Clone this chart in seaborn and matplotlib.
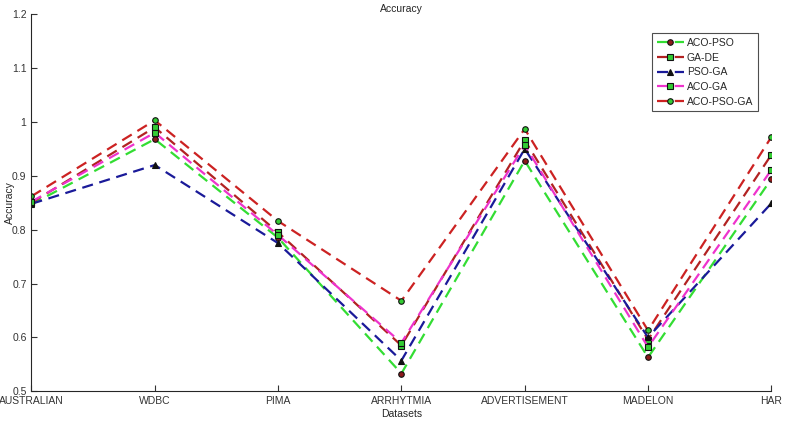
import pandas as pd
import matplotlib.pyplot as plt
import seaborn as sns

datasets = ["AUSTRALIAN", "WDBC", "PIMA", "ARRHYTMIA", "ADVERTISEMENT", "MADELON", "HAR"]

aco_pso = [0.847, 0.968, 0.785, 0.533, 0.928, 0.563, 0.894]
ga_de = [0.850, 0.990, 0.795, 0.585, 0.966, 0.596, 0.939]
pso_ga = [0.848, 0.920, 0.775, 0.557, 0.950, 0.600, 0.849]
aco_ga = [0.852, 0.980, 0.790, 0.590, 0.957, 0.582, 0.911]
aco_pso_ga = [0.862, 1.003, 0.816, 0.668, 0.987, 0.613, 0.972]

series = {
    "ACO-PSO": aco_pso,
    "GA-DE": ga_de,
    "PSO-GA": pso_ga,
    "ACO-GA": aco_ga,
    "ACO-PSO-GA": aco_pso_ga,
}

# line colour, marker, marker face, marker size
styles = {
    "ACO-PSO": ("#33dd33", "o", "#8b1a1a", 4),
    "GA-DE": ("#b22222", "s", "#33cc33", 5),
    "PSO-GA": ("#1a1a99", "^", "#111111", 4),
    "ACO-GA": ("#ee33cc", "s", "#33cc33", 5),
    "ACO-PSO-GA": ("#cc2222", "o", "#33cc33", 4),
}

def main():
    sns.set_style("ticks")
    plt.rcParams["font.family"] = ["Liberation Sans", "DejaVu Sans"]

    fig, ax = plt.subplots(figsize=(8.06, 4.30), dpi=100)
    fig.subplots_adjust(left=0.039, right=0.957, top=0.967, bottom=0.09)

    for name, vals in series.items():
        color, marker, face, ms = styles[name]
        df = pd.DataFrame({"Datasets": datasets, "Accuracy": vals})
        sns.lineplot(data=df, x="Datasets", y="Accuracy", ax=ax, color=color,
                     marker=marker, markerfacecolor=face, markeredgecolor="#111111",
                     markersize=ms, markeredgewidth=0.8, linewidth=1.6,
                     dashes=False, linestyle=(0, (5, 3)), label=name, sort=False)

    ax.set_xlim(0, len(datasets) - 1)
    ax.set_ylim(0.5, 1.2)
    ax.set_yticks([0.5, 0.6, 0.7, 0.8, 0.9, 1.0, 1.1, 1.2])
    ax.set_yticklabels(["0.5", "0.6", "0.7", "0.8", "0.9", "1", "1.1", "1.2"])
    ax.tick_params(direction="in", labelsize=7.5, colors="#333333", length=4)
    ax.set_title("Accuracy", fontsize=7.5, pad=0)
    ax.set_xlabel("Datasets", fontsize=7.5, labelpad=2)
    ax.set_ylabel("Accuracy", fontsize=7.5, labelpad=-2)
    sns.despine(ax=ax)

    leg = ax.legend(loc="upper right", bbox_to_anchor=(0.989, 0.963), fontsize=7.5,
                    frameon=True, fancybox=False, edgecolor="#222222",
                    handlelength=2.6, handletextpad=0.3, labelspacing=0.45,
                    borderpad=0.45)
    leg.get_frame().set_linewidth(0.8)

    plt.savefig("out.png", dpi=100)
    plt.close()

if __name__ == "__main__":
    main()
